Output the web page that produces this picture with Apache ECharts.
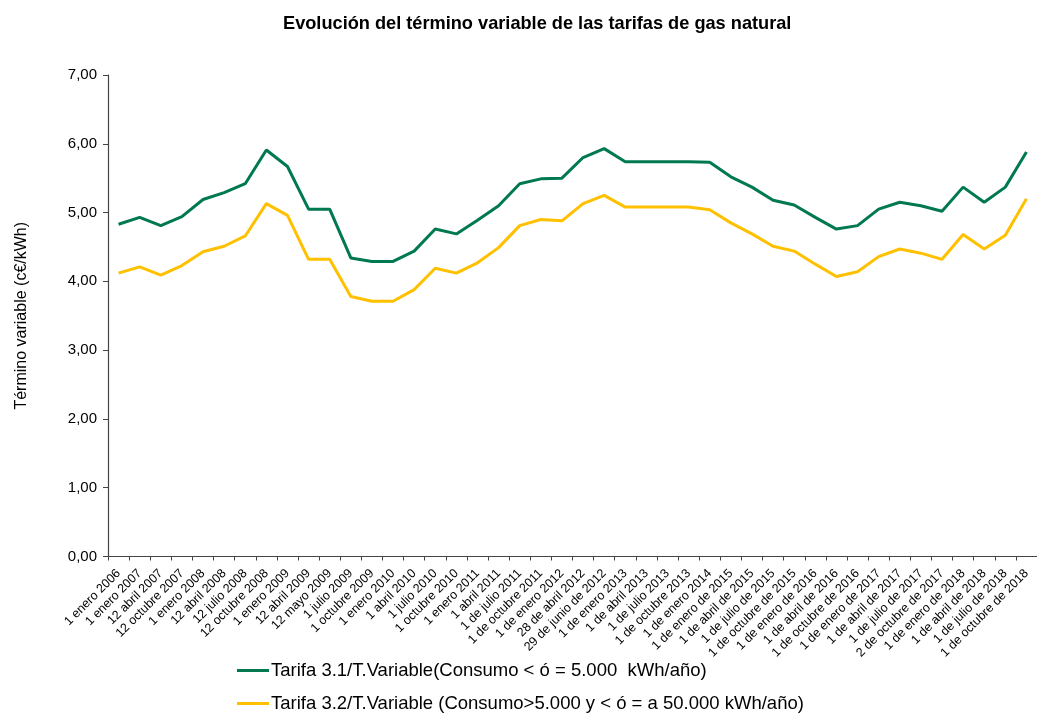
<!DOCTYPE html>
<html><head><meta charset="utf-8">
<script src="https://cdn.jsdelivr.net/npm/echarts@6/dist/echarts.min.js"></script>
<style>html,body{margin:0;padding:0;background:#fff}#c{width:1037px;height:714px}</style>
</head><body><div id="c"></div>
<script>
const categories = ["1 enero 2006","1 enero 2007","12 abril 2007","12 octubre 2007","1 enero 2008","12 abril 2008","12 julio 2008","12 octubre 2008","1 enero 2009","12 abril 2009","12 mayo 2009","1 julio 2009","1 octubre 2009","1 enero 2010","1 abril 2010","1 julio 2010","1 octubre 2010","1 enero 2011","1 abril 2011","1 de julio 2011","1 de octubre 2011","1 de enero 2012","28 de abril 2012","29 de junio de 2012","1 de enero 2013","1 de abril 2013","1 de julio 2013","1 de octubre 2013","1 de enero 2014","1 de enero de 2015","1 de abril de 2015","1 de julio de 2015","1 de octubre de 2015","1 de enero de 2016","1 de abril de 2016","1 de octubre de 2016","1 de enero de 2017","1 de abril de 2017","1 de julio de 2017","2 de octubre de 2017","1 de enero de 2018","1 de abril de 2018","1 de julio de 2018","1 de octubre de 2018"];
const tarifa31 = [4.83,4.93,4.81,4.94,5.19,5.29,5.42,5.91,5.67,5.05,5.05,4.34,4.29,4.29,4.44,4.76,4.69,4.89,5.10,5.42,5.49,5.50,5.80,5.93,5.74,5.74,5.74,5.74,5.73,5.52,5.37,5.18,5.11,4.93,4.76,4.81,5.05,5.15,5.10,5.02,5.37,5.15,5.37,5.88];
const tarifa32 = [4.12,4.21,4.09,4.23,4.43,4.51,4.66,5.13,4.96,4.32,4.32,3.78,3.71,3.71,3.88,4.19,4.12,4.27,4.49,4.81,4.90,4.88,5.13,5.25,5.08,5.08,5.08,5.08,5.04,4.85,4.69,4.51,4.44,4.25,4.07,4.14,4.36,4.47,4.41,4.32,4.68,4.47,4.67,5.20];
const seriesNames = ["Tarifa 3.1/T.Variable(Consumo < ó = 5.000  kWh/año)","Tarifa 3.2/T.Variable (Consumo>5.000 y < ó = a 50.000 kWh/año)"];
const titleText = "Evolución del término variable de las tarifas de gas natural";
const yName = "Término variable (c€/kWh)";

const chart = echarts.init(document.getElementById('c'));
const font = 'Liberation Sans, Arial, sans-serif';
const legendCommon = {left:232,itemWidth:32,itemHeight:3,icon:'rect',itemGap:4,
  textStyle:{fontSize:18.5,color:'#000',fontFamily:font,padding:[0,0,0,-3]}};
chart.setOption({
  animation:false,
  textStyle:{fontFamily:font},
  title:{text:titleText,left:278,top:10,textStyle:{fontSize:18.2,fontWeight:'bold',color:'#000',fontFamily:font}},
  grid:{left:108,top:75,bottom:157.5,right:-5.5,containLabel:false},
  legend:[
    Object.assign({top:656,data:[seriesNames[0]]},legendCommon),
    Object.assign({top:689,data:[seriesNames[1]]},legendCommon)
  ],
  xAxis:{type:'category',data:categories,boundaryGap:true,
    axisLine:{lineStyle:{color:'#444',width:1.2}},
    axisTick:{show:true,length:4,alignWithLabel:false,lineStyle:{color:'#444'}},
    axisLabel:{rotate:45,interval:0,fontSize:12.5,color:'#000',margin:15,fontFamily:font}},
  yAxis:{type:'value',min:0,max:7,interval:1,name:yName,nameLocation:'middle',nameGap:78,
    nameTextStyle:{fontSize:16,color:'#000',fontFamily:font},
    axisLine:{show:true,lineStyle:{color:'#444',width:1.2}},
    axisTick:{show:true,length:5,lineStyle:{color:'#444'}},
    splitLine:{show:false},
    axisLabel:{fontSize:15,color:'#000',margin:11,formatter:v=>v.toFixed(2).replace('.',',')}},
  series:[
    {name:seriesNames[0],type:'line',data:tarifa31,symbol:'none',lineStyle:{color:'#007852',width:3},itemStyle:{color:'#007852'}},
    {name:seriesNames[1],type:'line',data:tarifa32,symbol:'none',lineStyle:{color:'#FFC000',width:3},itemStyle:{color:'#FFC000'}}
  ]
});
</script></body></html>
